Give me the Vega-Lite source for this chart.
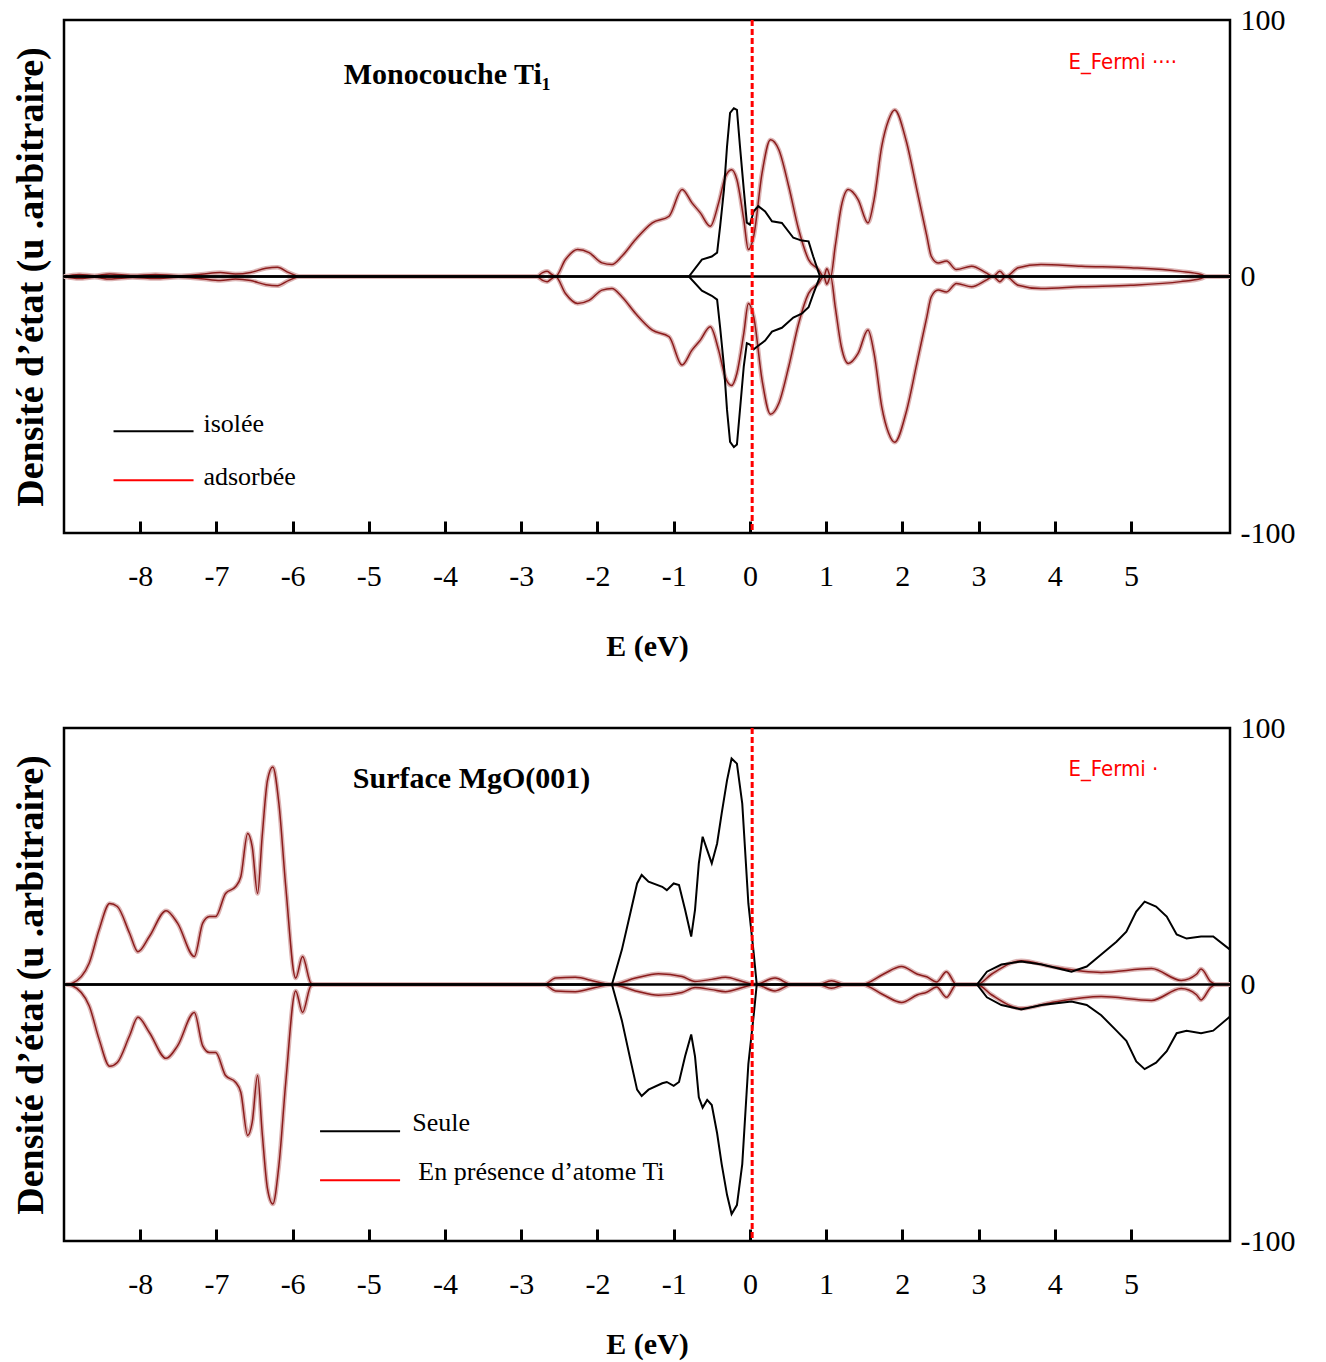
{
"$schema": "https://vega.github.io/schema/vega-lite/v6.json",
"padding": {"left": 10, "top": 3, "right": 5, "bottom": 3},
"spacing": 48,
"config": {
  "font": "Liberation Serif",
  "view": {"stroke": "black", "strokeWidth": 2.5},
  "axis": {"grid": false, "labelColor": "black", "titleColor": "black", "labelFont": "Liberation Serif", "titleFont": "Liberation Serif"},
  "axisX": {"domain": false, "tickSize": -12, "tickWidth": 3, "tickColor": "black", "labelFontSize": 30, "labelPadding": 40, "labelFlush": false, "titleFontSize": 30, "titleFontWeight": "bold"}
},
"datasets": {
  "zero": [{"E": -9, "D": 0}, {"E": 6.3, "D": 0}],
  "fermi": [{"E": 0.03}],
  "t_red": [
    {"E":-9,"D":0,"s":"u"},{"E":-8.8,"D":0.8,"s":"u"},{"E":-8.6,"D":0.3,"s":"u"},{"E":-8.4,"D":1,"s":"u"},{"E":-8.1,"D":0.4,"s":"u"},{"E":-7.8,"D":0.8,"s":"u"},{"E":-7.5,"D":0.3,"s":"u"},{"E":-7.2,"D":0.9,"s":"u"},{"E":-6.95,"D":1.6,"s":"u"},{"E":-6.75,"D":1,"s":"u"},{"E":-6.55,"D":1.6,"s":"u"},{"E":-6.35,"D":3.2,"s":"u"},{"E":-6.2,"D":3.6,"s":"u"},{"E":-6.05,"D":1.5,"s":"u"},{"E":-5.9,"D":0,"s":"u"},{"E":-2.8,"D":0,"s":"u"},{"E":-2.72,"D":1.5,"s":"u"},{"E":-2.66,"D":2,"s":"u"},{"E":-2.6,"D":0.8,"s":"u"},{"E":-2.55,"D":0,"s":"u"},{"E":-2.42,"D":6.6,"s":"u"},{"E":-2.26,"D":10.5,"s":"u"},{"E":-2.11,"D":9.3,"s":"u"},{"E":-1.94,"D":5.3,"s":"u"},{"E":-1.81,"D":4.7,"s":"u"},{"E":-1.68,"D":7.9,"s":"u"},{"E":-1.5,"D":14.4,"s":"u"},{"E":-1.28,"D":20.9,"s":"u"},{"E":-1.06,"D":23.5,"s":"u"},{"E":-0.89,"D":33.9,"s":"u"},{"E":-0.76,"D":28.7,"s":"u"},{"E":-0.65,"D":24.8,"s":"u"},{"E":-0.52,"D":19.6,"s":"u"},{"E":-0.41,"D":28.7,"s":"u"},{"E":-0.32,"D":39,"s":"u"},{"E":-0.24,"D":41.6,"s":"u"},{"E":-0.17,"D":37.7,"s":"u"},{"E":-0.08,"D":22.2,"s":"u"},{"E":-0.02,"D":10.5,"s":"u"},{"E":0.05,"D":15.7,"s":"u"},{"E":0.16,"D":40.4,"s":"u"},{"E":0.27,"D":53.3,"s":"u"},{"E":0.38,"D":49.4,"s":"u"},{"E":0.51,"D":35.1,"s":"u"},{"E":0.64,"D":18.3,"s":"u"},{"E":0.77,"D":6.6,"s":"u"},{"E":0.9,"D":2.7,"s":"u"},{"E":0.97,"D":0,"s":"u"},{"E":1.01,"D":3,"s":"u"},{"E":1.06,"D":0,"s":"u"},{"E":1.12,"D":11.8,"s":"u"},{"E":1.2,"D":27.4,"s":"u"},{"E":1.29,"D":33.9,"s":"u"},{"E":1.42,"D":30,"s":"u"},{"E":1.55,"D":20.9,"s":"u"},{"E":1.63,"D":30,"s":"u"},{"E":1.73,"D":50.7,"s":"u"},{"E":1.82,"D":61,"s":"u"},{"E":1.9,"D":64.9,"s":"u"},{"E":2.05,"D":53,"s":"u"},{"E":2.19,"D":34,"s":"u"},{"E":2.32,"D":16,"s":"u"},{"E":2.38,"D":7.9,"s":"u"},{"E":2.47,"D":5.3,"s":"u"},{"E":2.58,"D":6,"s":"u"},{"E":2.71,"D":2.7,"s":"u"},{"E":2.91,"D":4,"s":"u"},{"E":3.1,"D":1.4,"s":"u"},{"E":3.19,"D":0,"s":"u"},{"E":3.28,"D":2,"s":"u"},{"E":3.36,"D":0,"s":"u"},{"E":3.52,"D":3.4,"s":"u"},{"E":3.82,"D":4.7,"s":"u"},{"E":4.35,"D":4,"s":"u"},{"E":5,"D":3.4,"s":"u"},{"E":5.65,"D":2,"s":"u"},{"E":5.92,"D":0.8,"s":"u"},{"E":6,"D":0,"s":"u"},{"E":6.3,"D":0,"s":"u"},
    {"E":-9,"D":0,"s":"d"},{"E":-8.8,"D":-0.8,"s":"d"},{"E":-8.6,"D":-0.3,"s":"d"},{"E":-8.4,"D":-1,"s":"d"},{"E":-8.1,"D":-0.4,"s":"d"},{"E":-7.8,"D":-0.8,"s":"d"},{"E":-7.5,"D":-0.3,"s":"d"},{"E":-7.2,"D":-0.9,"s":"d"},{"E":-6.95,"D":-1.6,"s":"d"},{"E":-6.75,"D":-1,"s":"d"},{"E":-6.55,"D":-1.6,"s":"d"},{"E":-6.35,"D":-3.2,"s":"d"},{"E":-6.2,"D":-3.6,"s":"d"},{"E":-6.05,"D":-1.5,"s":"d"},{"E":-5.9,"D":0,"s":"d"},{"E":-2.8,"D":0,"s":"d"},{"E":-2.72,"D":-1.5,"s":"d"},{"E":-2.66,"D":-2,"s":"d"},{"E":-2.6,"D":-0.8,"s":"d"},{"E":-2.55,"D":0,"s":"d"},{"E":-2.42,"D":-6.6,"s":"d"},{"E":-2.26,"D":-10.5,"s":"d"},{"E":-2.11,"D":-9.3,"s":"d"},{"E":-1.94,"D":-5.3,"s":"d"},{"E":-1.81,"D":-4.7,"s":"d"},{"E":-1.68,"D":-7.9,"s":"d"},{"E":-1.5,"D":-14.4,"s":"d"},{"E":-1.28,"D":-20.9,"s":"d"},{"E":-1.06,"D":-23.5,"s":"d"},{"E":-0.89,"D":-34.5,"s":"d"},{"E":-0.76,"D":-28.7,"s":"d"},{"E":-0.65,"D":-24.8,"s":"d"},{"E":-0.52,"D":-19.6,"s":"d"},{"E":-0.41,"D":-28.7,"s":"d"},{"E":-0.32,"D":-39.5,"s":"d"},{"E":-0.24,"D":-42.5,"s":"d"},{"E":-0.17,"D":-37.7,"s":"d"},{"E":-0.08,"D":-22.2,"s":"d"},{"E":-0.02,"D":-10.5,"s":"d"},{"E":0.05,"D":-15.7,"s":"d"},{"E":0.16,"D":-40.4,"s":"d"},{"E":0.27,"D":-53.7,"s":"d"},{"E":0.38,"D":-49.4,"s":"d"},{"E":0.51,"D":-35.1,"s":"d"},{"E":0.64,"D":-18.3,"s":"d"},{"E":0.77,"D":-6.6,"s":"d"},{"E":0.9,"D":-2.7,"s":"d"},{"E":0.97,"D":0,"s":"d"},{"E":1.01,"D":-3,"s":"d"},{"E":1.06,"D":0,"s":"d"},{"E":1.12,"D":-11.8,"s":"d"},{"E":1.2,"D":-27.4,"s":"d"},{"E":1.29,"D":-33.9,"s":"d"},{"E":1.42,"D":-30,"s":"d"},{"E":1.55,"D":-20.9,"s":"d"},{"E":1.63,"D":-30,"s":"d"},{"E":1.73,"D":-50.7,"s":"d"},{"E":1.82,"D":-61,"s":"d"},{"E":1.9,"D":-64.6,"s":"d"},{"E":2.05,"D":-53,"s":"d"},{"E":2.19,"D":-34,"s":"d"},{"E":2.32,"D":-16,"s":"d"},{"E":2.38,"D":-7.9,"s":"d"},{"E":2.47,"D":-5.3,"s":"d"},{"E":2.58,"D":-6,"s":"d"},{"E":2.71,"D":-2.7,"s":"d"},{"E":2.91,"D":-4,"s":"d"},{"E":3.1,"D":-1.4,"s":"d"},{"E":3.19,"D":0,"s":"d"},{"E":3.28,"D":-2,"s":"d"},{"E":3.36,"D":0,"s":"d"},{"E":3.52,"D":-3.4,"s":"d"},{"E":3.82,"D":-4.7,"s":"d"},{"E":4.35,"D":-4,"s":"d"},{"E":5,"D":-3.4,"s":"d"},{"E":5.65,"D":-2,"s":"d"},{"E":5.92,"D":-0.8,"s":"d"},{"E":6,"D":0,"s":"d"},{"E":6.3,"D":0,"s":"d"}
  ],
  "t_blk": [
    {"E":-9,"D":0,"s":"u"},{"E":-0.8,"D":0,"s":"u"},{"E":-0.63,"D":6.6,"s":"u"},{"E":-0.5,"D":7.8,"s":"u"},{"E":-0.43,"D":9.3,"s":"u"},{"E":-0.39,"D":19.6,"s":"u"},{"E":-0.34,"D":33.9,"s":"u"},{"E":-0.3,"D":50.7,"s":"u"},{"E":-0.26,"D":63.8,"s":"u"},{"E":-0.21,"D":65.6,"s":"u"},{"E":-0.17,"D":65,"s":"u"},{"E":-0.13,"D":50.7,"s":"u"},{"E":-0.08,"D":33.9,"s":"u"},{"E":-0.04,"D":21,"s":"u"},{"E":0,"D":20.2,"s":"u"},{"E":0.05,"D":25.4,"s":"u"},{"E":0.11,"D":27.4,"s":"u"},{"E":0.2,"D":25.4,"s":"u"},{"E":0.29,"D":21.5,"s":"u"},{"E":0.42,"D":20.9,"s":"u"},{"E":0.57,"D":15.1,"s":"u"},{"E":0.68,"D":14,"s":"u"},{"E":0.77,"D":13.7,"s":"u"},{"E":0.83,"D":7.9,"s":"u"},{"E":0.92,"D":0,"s":"u"},{"E":6.3,"D":0,"s":"u"},
    {"E":-9,"D":0,"s":"d"},{"E":-0.8,"D":0,"s":"d"},{"E":-0.63,"D":-5.5,"s":"d"},{"E":-0.5,"D":-7.5,"s":"d"},{"E":-0.43,"D":-9,"s":"d"},{"E":-0.39,"D":-20,"s":"d"},{"E":-0.34,"D":-35,"s":"d"},{"E":-0.3,"D":-52,"s":"d"},{"E":-0.26,"D":-64.5,"s":"d"},{"E":-0.21,"D":-66.5,"s":"d"},{"E":-0.17,"D":-65.5,"s":"d"},{"E":-0.13,"D":-52,"s":"d"},{"E":-0.08,"D":-35,"s":"d"},{"E":-0.04,"D":-26,"s":"d"},{"E":0,"D":-26.5,"s":"d"},{"E":0.05,"D":-28.4,"s":"d"},{"E":0.11,"D":-27,"s":"d"},{"E":0.2,"D":-25,"s":"d"},{"E":0.29,"D":-21.5,"s":"d"},{"E":0.42,"D":-20,"s":"d"},{"E":0.57,"D":-16,"s":"d"},{"E":0.68,"D":-14.5,"s":"d"},{"E":0.77,"D":-12,"s":"d"},{"E":0.83,"D":-7,"s":"d"},{"E":0.92,"D":0,"s":"d"},{"E":6.3,"D":0,"s":"d"}
  ],
  "b_red": [
    {"E":-8.97,"D":0,"s":"u"},{"E":-8.89,"D":0.5,"s":"u"},{"E":-8.67,"D":8.3,"s":"u"},{"E":-8.54,"D":21.3,"s":"u"},{"E":-8.4,"D":31.6,"s":"u"},{"E":-8.3,"D":30.4,"s":"u"},{"E":-8.14,"D":20,"s":"u"},{"E":-8.03,"D":12.8,"s":"u"},{"E":-7.88,"D":18.7,"s":"u"},{"E":-7.66,"D":28.8,"s":"u"},{"E":-7.51,"D":23.9,"s":"u"},{"E":-7.29,"D":10.9,"s":"u"},{"E":-7.18,"D":23.9,"s":"u"},{"E":-7.09,"D":26.5,"s":"u"},{"E":-7.01,"D":26.5,"s":"u"},{"E":-6.88,"D":35.5,"s":"u"},{"E":-6.75,"D":38.1,"s":"u"},{"E":-6.68,"D":42,"s":"u"},{"E":-6.59,"D":58.9,"s":"u"},{"E":-6.53,"D":53.7,"s":"u"},{"E":-6.46,"D":35.5,"s":"u"},{"E":-6.4,"D":57.6,"s":"u"},{"E":-6.33,"D":79.6,"s":"u"},{"E":-6.26,"D":84.8,"s":"u"},{"E":-6.18,"D":70.5,"s":"u"},{"E":-6.09,"D":38.1,"s":"u"},{"E":-5.96,"D":2.5,"s":"u"},{"E":-5.87,"D":10.9,"s":"u"},{"E":-5.76,"D":0.5,"s":"u"},{"E":-5.7,"D":0,"s":"u"},{"E":-2.7,"D":0,"s":"u"},{"E":-2.55,"D":2.5,"s":"u"},{"E":-2.29,"D":2.8,"s":"u"},{"E":-2.03,"D":1.2,"s":"u"},{"E":-1.81,"D":0,"s":"u"},{"E":-1.5,"D":2.5,"s":"u"},{"E":-1.2,"D":4.2,"s":"u"},{"E":-0.89,"D":3.1,"s":"u"},{"E":-0.72,"D":1.2,"s":"u"},{"E":-0.5,"D":2,"s":"u"},{"E":-0.32,"D":2.8,"s":"u"},{"E":-0.1,"D":1.2,"s":"u"},{"E":0.07,"D":0,"s":"u"},{"E":0.33,"D":2.5,"s":"u"},{"E":0.55,"D":0,"s":"u"},{"E":0.9,"D":0,"s":"u"},{"E":1.07,"D":1.5,"s":"u"},{"E":1.25,"D":0,"s":"u"},{"E":1.47,"D":0,"s":"u"},{"E":1.75,"D":4,"s":"u"},{"E":1.99,"D":7,"s":"u"},{"E":2.2,"D":4,"s":"u"},{"E":2.32,"D":3,"s":"u"},{"E":2.45,"D":1,"s":"u"},{"E":2.58,"D":5,"s":"u"},{"E":2.71,"D":0,"s":"u"},{"E":2.98,"D":0,"s":"u"},{"E":3.17,"D":4,"s":"u"},{"E":3.56,"D":9.3,"s":"u"},{"E":3.96,"D":7,"s":"u"},{"E":4.61,"D":4.7,"s":"u"},{"E":5.27,"D":6.2,"s":"u"},{"E":5.66,"D":1.6,"s":"u"},{"E":5.86,"D":4,"s":"u"},{"E":5.92,"D":6,"s":"u"},{"E":6.05,"D":1,"s":"u"},{"E":6.12,"D":0,"s":"u"},{"E":6.3,"D":0,"s":"u"},
    {"E":-8.97,"D":0,"s":"d"},{"E":-8.89,"D":-0.5,"s":"d"},{"E":-8.67,"D":-8.3,"s":"d"},{"E":-8.54,"D":-21.3,"s":"d"},{"E":-8.4,"D":-31.9,"s":"d"},{"E":-8.3,"D":-30.4,"s":"d"},{"E":-8.14,"D":-20,"s":"d"},{"E":-8.03,"D":-12.8,"s":"d"},{"E":-7.88,"D":-18.7,"s":"d"},{"E":-7.66,"D":-28.8,"s":"d"},{"E":-7.51,"D":-23.9,"s":"d"},{"E":-7.29,"D":-10.9,"s":"d"},{"E":-7.18,"D":-23.9,"s":"d"},{"E":-7.09,"D":-26.5,"s":"d"},{"E":-7.01,"D":-26.5,"s":"d"},{"E":-6.88,"D":-35.5,"s":"d"},{"E":-6.75,"D":-38.1,"s":"d"},{"E":-6.68,"D":-42,"s":"d"},{"E":-6.59,"D":-58.9,"s":"d"},{"E":-6.53,"D":-53.7,"s":"d"},{"E":-6.46,"D":-35.5,"s":"d"},{"E":-6.4,"D":-57.6,"s":"d"},{"E":-6.33,"D":-79.6,"s":"d"},{"E":-6.26,"D":-85.6,"s":"d"},{"E":-6.18,"D":-70.5,"s":"d"},{"E":-6.09,"D":-38.1,"s":"d"},{"E":-5.96,"D":-2.5,"s":"d"},{"E":-5.87,"D":-10.9,"s":"d"},{"E":-5.76,"D":-0.5,"s":"d"},{"E":-5.7,"D":0,"s":"d"},{"E":-2.7,"D":0,"s":"d"},{"E":-2.55,"D":-2.5,"s":"d"},{"E":-2.29,"D":-2.8,"s":"d"},{"E":-2.03,"D":-1.2,"s":"d"},{"E":-1.81,"D":0,"s":"d"},{"E":-1.5,"D":-2.5,"s":"d"},{"E":-1.2,"D":-4.2,"s":"d"},{"E":-0.89,"D":-3.1,"s":"d"},{"E":-0.72,"D":-1.2,"s":"d"},{"E":-0.5,"D":-2,"s":"d"},{"E":-0.32,"D":-2.8,"s":"d"},{"E":-0.1,"D":-1.2,"s":"d"},{"E":0.07,"D":0,"s":"d"},{"E":0.33,"D":-2.5,"s":"d"},{"E":0.55,"D":0,"s":"d"},{"E":0.9,"D":0,"s":"d"},{"E":1.07,"D":-1.5,"s":"d"},{"E":1.25,"D":0,"s":"d"},{"E":1.47,"D":0,"s":"d"},{"E":1.75,"D":-4,"s":"d"},{"E":1.99,"D":-7,"s":"d"},{"E":2.2,"D":-4,"s":"d"},{"E":2.32,"D":-3,"s":"d"},{"E":2.45,"D":-1,"s":"d"},{"E":2.58,"D":-5,"s":"d"},{"E":2.71,"D":0,"s":"d"},{"E":2.98,"D":0,"s":"d"},{"E":3.17,"D":-4,"s":"d"},{"E":3.56,"D":-9.3,"s":"d"},{"E":3.96,"D":-7,"s":"d"},{"E":4.61,"D":-4.7,"s":"d"},{"E":5.27,"D":-6.2,"s":"d"},{"E":5.66,"D":-1.6,"s":"d"},{"E":5.86,"D":-4,"s":"d"},{"E":5.92,"D":-6,"s":"d"},{"E":6.05,"D":-1,"s":"d"},{"E":6.12,"D":0,"s":"d"},{"E":6.3,"D":0,"s":"d"}
  ],
  "b_blk": [
    {"E":-9,"D":0,"s":"u"},{"E":-1.81,"D":0,"s":"u"},{"E":-1.68,"D":13.5,"s":"u"},{"E":-1.57,"D":27.7,"s":"u"},{"E":-1.48,"D":39.4,"s":"u"},{"E":-1.42,"D":42.7,"s":"u"},{"E":-1.33,"D":40.1,"s":"u"},{"E":-1.15,"D":38.1,"s":"u"},{"E":-1.09,"D":36.8,"s":"u"},{"E":-1,"D":39.4,"s":"u"},{"E":-0.93,"D":38.8,"s":"u"},{"E":-0.85,"D":29.1,"s":"u"},{"E":-0.77,"D":18.7,"s":"u"},{"E":-0.72,"D":29.1,"s":"u"},{"E":-0.67,"D":47.2,"s":"u"},{"E":-0.62,"D":57.6,"s":"u"},{"E":-0.56,"D":52.4,"s":"u"},{"E":-0.5,"D":47.2,"s":"u"},{"E":-0.43,"D":55,"s":"u"},{"E":-0.37,"D":66.7,"s":"u"},{"E":-0.3,"D":79.6,"s":"u"},{"E":-0.24,"D":88.1,"s":"u"},{"E":-0.17,"D":86.1,"s":"u"},{"E":-0.1,"D":70.5,"s":"u"},{"E":-0.02,"D":31.6,"s":"u"},{"E":0.05,"D":12.2,"s":"u"},{"E":0.09,"D":0,"s":"u"},{"E":2.98,"D":0,"s":"u"},{"E":3.11,"D":5,"s":"u"},{"E":3.3,"D":7.8,"s":"u"},{"E":3.56,"D":9,"s":"u"},{"E":3.83,"D":7.8,"s":"u"},{"E":4.22,"D":5,"s":"u"},{"E":4.42,"D":7,"s":"u"},{"E":4.61,"D":11.7,"s":"u"},{"E":4.81,"D":16.7,"s":"u"},{"E":4.94,"D":20.6,"s":"u"},{"E":5.07,"D":28.4,"s":"u"},{"E":5.18,"D":32.3,"s":"u"},{"E":5.33,"D":30.4,"s":"u"},{"E":5.47,"D":26.5,"s":"u"},{"E":5.6,"D":19.5,"s":"u"},{"E":5.73,"D":17.9,"s":"u"},{"E":5.92,"D":18.7,"s":"u"},{"E":6.08,"D":18.7,"s":"u"},{"E":6.3,"D":13.6,"s":"u"},
    {"E":-9,"D":0,"s":"d"},{"E":-1.81,"D":0,"s":"d"},{"E":-1.68,"D":-14,"s":"d"},{"E":-1.57,"D":-29,"s":"d"},{"E":-1.48,"D":-41,"s":"d"},{"E":-1.42,"D":-43.5,"s":"d"},{"E":-1.33,"D":-41,"s":"d"},{"E":-1.15,"D":-38.5,"s":"d"},{"E":-1.09,"D":-38,"s":"d"},{"E":-1,"D":-39.5,"s":"d"},{"E":-0.93,"D":-38,"s":"d"},{"E":-0.85,"D":-28,"s":"d"},{"E":-0.77,"D":-19.5,"s":"d"},{"E":-0.72,"D":-28,"s":"d"},{"E":-0.67,"D":-44,"s":"d"},{"E":-0.62,"D":-48,"s":"d"},{"E":-0.56,"D":-45,"s":"d"},{"E":-0.5,"D":-47,"s":"d"},{"E":-0.43,"D":-58,"s":"d"},{"E":-0.37,"D":-70,"s":"d"},{"E":-0.3,"D":-82,"s":"d"},{"E":-0.24,"D":-89.5,"s":"d"},{"E":-0.17,"D":-86,"s":"d"},{"E":-0.1,"D":-70,"s":"d"},{"E":-0.02,"D":-31,"s":"d"},{"E":0.05,"D":-12,"s":"d"},{"E":0.09,"D":0,"s":"d"},{"E":2.98,"D":0,"s":"d"},{"E":3.11,"D":-5,"s":"d"},{"E":3.3,"D":-8,"s":"d"},{"E":3.56,"D":-9.7,"s":"d"},{"E":3.83,"D":-8,"s":"d"},{"E":4.22,"D":-6.6,"s":"d"},{"E":4.42,"D":-8,"s":"d"},{"E":4.61,"D":-12,"s":"d"},{"E":4.81,"D":-18,"s":"d"},{"E":4.94,"D":-22,"s":"d"},{"E":5.07,"D":-30,"s":"d"},{"E":5.18,"D":-33,"s":"d"},{"E":5.33,"D":-30.5,"s":"d"},{"E":5.47,"D":-26,"s":"d"},{"E":5.6,"D":-19,"s":"d"},{"E":5.73,"D":-18,"s":"d"},{"E":5.92,"D":-19,"s":"d"},{"E":6.08,"D":-18,"s":"d"},{"E":6.3,"D":-12.5,"s":"d"}
  ],
  "t_leg": [{"E":-8.35,"E2":-7.3,"D":-60.3,"c":"k"},{"E":-8.35,"E2":-7.3,"D":-79.4,"c":"r"}],
  "t_legtxt": [{"E":-7.17,"D":-57.6,"label":"isolée"},{"E":-7.17,"D":-78.2,"label":"adsorbée"}],
  "t_title": [{"E":-5.33,"D":78.6,"label":"Monocouche Ti₁"}],
  "t_fermi": [{"E":4.18,"D":83.7,"label":"E_Fermi ····"}],
  "b_leg": [{"E":-5.64,"E2":-4.59,"D":-57.2,"c":"k"},{"E":-5.64,"E2":-4.59,"D":-76.3,"c":"r"}],
  "b_legtxt": [{"E":-4.43,"D":-54.1,"label":"Seule"},{"E":-4.35,"D":-73.2,"label":"En présence d’atome Ti"}],
  "b_title": [{"E":-5.21,"D":80.2,"label":"Surface MgO(001)"}],
  "b_fermi": [{"E":4.18,"D":84,"label":"E_Fermi ·"}]
},
"vconcat": [
  {
    "width": 1166, "height": 513,
    "encoding": {"x": {"field": "E", "type": "quantitative", "scale": {"domain": [-9, 6.3], "nice": false, "zero": false}, "axis": {"title": "E (eV)", "titlePadding": 40, "values": [-8,-7,-6,-5,-4,-3,-2,-1,0,1,2,3,4,5], "labelExpr": "'' + datum.value"}}},
    "layer": [
      {"data": {"name": "t_red"}, "mark": {"type": "line", "color": "#dcb4b4", "strokeWidth": 4.5, "interpolate": "monotone"},
       "encoding": {"y": {"field": "D", "type": "quantitative", "scale": {"domain": [-100, 100], "nice": false}, "axis": {"orient": "right", "title": null, "values": [-100, 0, 100], "labelExpr": "'' + datum.value", "ticks": false, "domain": false, "labelFontSize": 30, "labelPadding": 10}}, "detail": {"field": "s"}}},
      {"data": {"name": "t_red"}, "mark": {"type": "line", "color": "#8b1c1c", "strokeWidth": 1.5, "interpolate": "monotone"},
       "encoding": {"y": {"field": "D", "type": "quantitative", "axis": null}, "detail": {"field": "s"}}},
      {"data": {"name": "zero"}, "mark": {"type": "line", "color": "black", "strokeWidth": 2.5},
       "encoding": {"y": {"field": "D", "type": "quantitative", "axis": {"orient": "left", "title": "Densité d’état  (u .arbitraire)", "labels": false, "ticks": false, "domain": false, "titleFontSize": 38, "titleFontWeight": "bold", "titlePadding": 14}}}},
      {"data": {"name": "t_blk"}, "mark": {"type": "line", "color": "black", "strokeWidth": 2},
       "encoding": {"y": {"field": "D", "type": "quantitative", "axis": null}, "detail": {"field": "s"}}},
      {"data": {"name": "fermi"}, "mark": {"type": "rule", "color": "#ff0000", "strokeWidth": 3, "strokeDash": [6, 3]}, "encoding": {}},
      {"data": {"name": "t_leg"}, "mark": {"type": "rule", "strokeWidth": 2},
       "encoding": {"x2": {"field": "E2"}, "y": {"field": "D", "type": "quantitative", "axis": null}, "color": {"field": "c", "type": "nominal", "scale": {"domain": ["k", "r"], "range": ["black", "#ff0000"]}, "legend": null}}},
      {"data": {"name": "t_legtxt"}, "mark": {"type": "text", "align": "left", "baseline": "middle", "fontSize": 26, "font": "Liberation Serif", "color": "black"},
       "encoding": {"y": {"field": "D", "type": "quantitative", "axis": null}, "text": {"field": "label"}}},
      {"data": {"name": "t_title"}, "mark": {"type": "text", "align": "left", "baseline": "middle", "fontSize": 30, "fontWeight": "bold", "font": "Liberation Serif", "color": "black"},
       "encoding": {"y": {"field": "D", "type": "quantitative", "axis": null}, "text": {"field": "label"}}},
      {"data": {"name": "t_fermi"}, "mark": {"type": "text", "align": "left", "baseline": "middle", "fontSize": 22, "font": "Liberation Sans Narrow, DejaVu Sans Condensed, sans-serif", "color": "#ff0000"},
       "encoding": {"y": {"field": "D", "type": "quantitative", "axis": null}, "text": {"field": "label"}}}
    ],
    "resolve": {"axis": {"y": "independent"}}
  },
  {
    "width": 1166, "height": 513,
    "encoding": {"x": {"field": "E", "type": "quantitative", "scale": {"domain": [-9, 6.3], "nice": false, "zero": false}, "axis": {"title": "E (eV)", "titlePadding": 30, "values": [-8,-7,-6,-5,-4,-3,-2,-1,0,1,2,3,4,5], "labelExpr": "'' + datum.value"}}},
    "layer": [
      {"data": {"name": "b_red"}, "mark": {"type": "line", "color": "#dcb4b4", "strokeWidth": 4.5, "interpolate": "monotone"},
       "encoding": {"y": {"field": "D", "type": "quantitative", "scale": {"domain": [-100, 100], "nice": false}, "axis": {"orient": "right", "title": null, "values": [-100, 0, 100], "labelExpr": "'' + datum.value", "ticks": false, "domain": false, "labelFontSize": 30, "labelPadding": 10}}, "detail": {"field": "s"}}},
      {"data": {"name": "b_red"}, "mark": {"type": "line", "color": "#8b1c1c", "strokeWidth": 1.5, "interpolate": "monotone"},
       "encoding": {"y": {"field": "D", "type": "quantitative", "axis": null}, "detail": {"field": "s"}}},
      {"data": {"name": "zero"}, "mark": {"type": "line", "color": "black", "strokeWidth": 2.5},
       "encoding": {"y": {"field": "D", "type": "quantitative", "axis": {"orient": "left", "title": "Densité d’état  (u .arbitraire)", "labels": false, "ticks": false, "domain": false, "titleFontSize": 38, "titleFontWeight": "bold", "titlePadding": 14}}}},
      {"data": {"name": "b_blk"}, "mark": {"type": "line", "color": "black", "strokeWidth": 2},
       "encoding": {"y": {"field": "D", "type": "quantitative", "axis": null}, "detail": {"field": "s"}}},
      {"data": {"name": "fermi"}, "mark": {"type": "rule", "color": "#ff0000", "strokeWidth": 3, "strokeDash": [6, 3]}, "encoding": {}},
      {"data": {"name": "b_leg"}, "mark": {"type": "rule", "strokeWidth": 2},
       "encoding": {"x2": {"field": "E2"}, "y": {"field": "D", "type": "quantitative", "axis": null}, "color": {"field": "c", "type": "nominal", "scale": {"domain": ["k", "r"], "range": ["black", "#ff0000"]}, "legend": null}}},
      {"data": {"name": "b_legtxt"}, "mark": {"type": "text", "align": "left", "baseline": "middle", "fontSize": 26, "font": "Liberation Serif", "color": "black"},
       "encoding": {"y": {"field": "D", "type": "quantitative", "axis": null}, "text": {"field": "label"}}},
      {"data": {"name": "b_title"}, "mark": {"type": "text", "align": "left", "baseline": "middle", "fontSize": 30, "fontWeight": "bold", "font": "Liberation Serif", "color": "black"},
       "encoding": {"y": {"field": "D", "type": "quantitative", "axis": null}, "text": {"field": "label"}}},
      {"data": {"name": "b_fermi"}, "mark": {"type": "text", "align": "left", "baseline": "middle", "fontSize": 22, "font": "Liberation Sans Narrow, DejaVu Sans Condensed, sans-serif", "color": "#ff0000"},
       "encoding": {"y": {"field": "D", "type": "quantitative", "axis": null}, "text": {"field": "label"}}}
    ],
    "resolve": {"axis": {"y": "independent"}}
  }
]
}
